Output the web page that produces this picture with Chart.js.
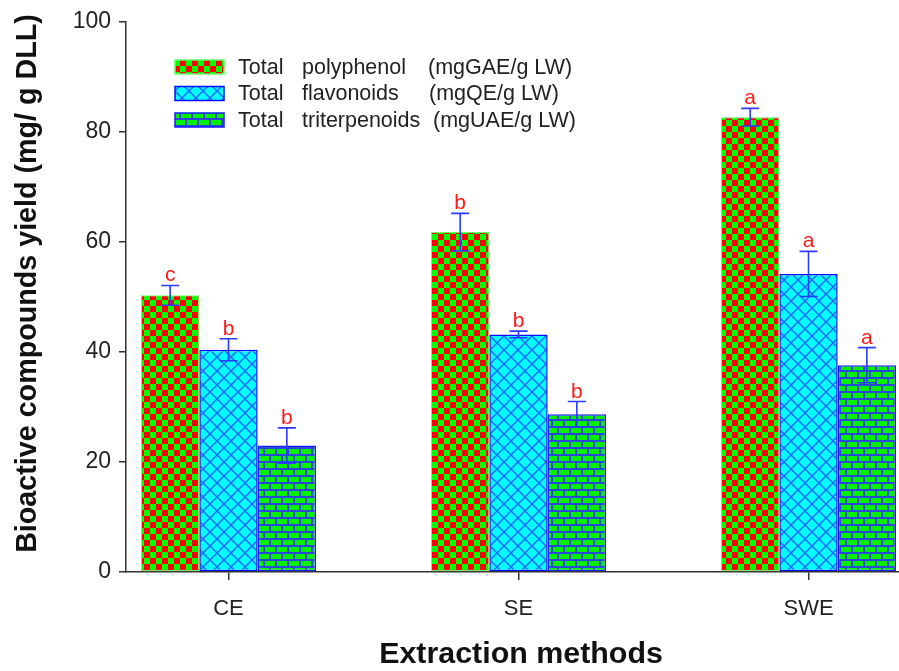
<!DOCTYPE html>
<html><head><meta charset="utf-8">
<script src="https://cdn.jsdelivr.net/npm/chart.js@4"></script>
<style>html,body{margin:0;padding:0;background:#fff;overflow:hidden}#wrap{position:relative;width:899px;height:671px}</style>
</head><body><div id="wrap"><canvas id="c" width="899" height="671"></canvas></div>
<script>
// ---- data ----
const categories = ['CE', 'SE', 'SWE'];
const polyphenol = [50.3, 61.8, 82.7];
const polyphenolErr = [1.8, 3.4, 1.6];
const polyphenolLetters = ['c', 'b', 'a'];
const flavonoids = [40.4, 43.2, 54.2];
const flavonoidsErr = [2.0, 0.6, 4.1];
const flavonoidsLetters = ['b', 'b', 'a'];
const triterpenoids = [23.0, 28.7, 37.6];
const triterpenoidsErr = [3.2, 2.3, 3.2];
const triterpenoidsLetters = ['b', 'b', 'a'];
const yTicks = [0, 20, 40, 60, 80, 100];
const legendParts = [
  ['Total', 'polyphenol', '(mgGAE/g LW)'],
  ['Total', 'flavonoids', '(mgQE/g LW)'],
  ['Total', 'triterpenoids', '(mgUAE/g LW)']
];
const yTitle = 'Bioactive compounds yield (mg/ g DLL)';
const xTitle = 'Extraction methods';

// ---- patterns ----
function makePattern(w, h, draw) {
  const c = document.createElement('canvas');
  c.width = w; c.height = h;
  const g = c.getContext('2d');
  draw(g, w, h);
  return document.getElementById('c').getContext('2d').createPattern(c, 'repeat');
}
const checker = makePattern(12, 12, (g) => {
  g.fillStyle = '#00ff00'; g.fillRect(0, 0, 12, 12);
  g.fillStyle = '#ff0000'; g.fillRect(0, 0, 6, 6); g.fillRect(6, 6, 6, 6);
});
const hatch = makePattern(14, 14, (g, w, h) => {
  g.fillStyle = '#00ffff'; g.fillRect(0, 0, w, h);
  g.strokeStyle = '#2266ff'; g.lineWidth = 1.5;
  for (const o of [-w, 0, w]) {
    g.beginPath(); g.moveTo(o, 0); g.lineTo(o + w, h); g.stroke();
    g.beginPath(); g.moveTo(o + w, 0); g.lineTo(o, h); g.stroke();
  }
});
const brick = makePattern(12, 14, (g) => {
  g.fillStyle = '#2a48d8'; g.fillRect(0, 0, 12, 14);
  g.fillStyle = '#00f000';
  g.fillRect(1, 1, 10, 5);
  g.fillRect(7, 8, 10, 5); g.fillRect(-5, 8, 10, 5);
});

const series = [
  { label: legendParts[0].join(' '), values: polyphenol, err: polyphenolErr, letters: polyphenolLetters, bg: checker, border: '#66ff66', bw: 1 },
  { label: legendParts[1].join(' '), values: flavonoids, err: flavonoidsErr, letters: flavonoidsLetters, bg: hatch, border: '#0a0aff', bw: 1.5 },
  { label: legendParts[2].join(' '), values: triterpenoids, err: triterpenoidsErr, letters: triterpenoidsLetters, bg: brick, border: '#1a1aff', bw: 1.5 }
];

const FONT = '"Liberation Sans", Arial, Helvetica, sans-serif';

const errorBars = {
  id: 'errorBars',
  afterDatasetsDraw(chart) {
    const ctx = chart.ctx, ys = chart.scales.y;
    series.forEach((s, d) => {
      const meta = chart.getDatasetMeta(d);
      meta.data.forEach((bar, i) => {
        const x = bar.x;
        const yt = ys.getPixelForValue(s.values[i] + s.err[i]);
        const yb = ys.getPixelForValue(s.values[i] - s.err[i]);
        ctx.save();
        ctx.strokeStyle = '#2a3aff'; ctx.lineWidth = 1.6;
        ctx.beginPath();
        ctx.moveTo(x, yt); ctx.lineTo(x, yb);
        ctx.moveTo(x - 9, yt); ctx.lineTo(x + 9, yt);
        ctx.moveTo(x - 9, yb); ctx.lineTo(x + 9, yb);
        ctx.stroke();
        ctx.fillStyle = '#ff1a1a';
        ctx.font = '21px ' + FONT;
        ctx.textAlign = 'center'; ctx.textBaseline = 'alphabetic';
        ctx.fillText(s.letters[i], x, yt - 4);
        ctx.restore();
      });
    });
  }
};

const customLegendAndTitles = {
  id: 'customLegendAndTitles',
  afterDraw(chart) {
    const ctx = chart.ctx;
    const xs = [[238, 302, 428], [238, 302, 429], [238, 302, 433]];
    series.forEach((s, r) => {
      const yc = 67 + r * 26.5;
      ctx.save();
      ctx.fillStyle = s.bg;
      ctx.fillRect(175, yc - 7, 49, 14);
      ctx.strokeStyle = s.border; ctx.lineWidth = 1.5;
      ctx.strokeRect(175, yc - 7, 49, 14);
      ctx.fillStyle = '#222';
      ctx.font = '21.5px ' + FONT;
      ctx.textBaseline = 'middle'; ctx.textAlign = 'left';
      legendParts[r].forEach((t, k) => ctx.fillText(t, xs[r][k], yc + 1));
      ctx.restore();
    });
    // axis titles
    ctx.save();
    ctx.fillStyle = '#111';
    ctx.font = 'bold 28.7px ' + FONT;
    ctx.textAlign = 'center'; ctx.textBaseline = 'middle';
    ctx.translate(28, 283.5);
    ctx.rotate(-Math.PI / 2);
    ctx.fillText(yTitle, 0, 0);
    ctx.restore();
    ctx.save();
    ctx.fillStyle = '#111';
    ctx.font = 'bold 30.4px ' + FONT;
    ctx.textAlign = 'center'; ctx.textBaseline = 'middle';
    ctx.fillText(xTitle, 521, 655);
    ctx.restore();
  }
};

new Chart(document.getElementById('c'), {
  type: 'bar',
  data: {
    datasets: series.map(s => ({
      label: s.label,
      data: s.values.map((v, i) => ({ x: i, y: v })),
      backgroundColor: s.bg,
      borderColor: s.border,
      borderWidth: s.bw,
      borderSkipped: false,
      categoryPercentage: 0.6034,
      barPercentage: 1.0
    }))
  },
  options: {
    responsive: false,
    animation: false,
    devicePixelRatio: 1,
    layout: { padding: { top: 22, right: 0, left: 0, bottom: 0 } },
    plugins: { legend: { display: false }, tooltip: { enabled: false } },
    scales: {
      x: {
        type: 'linear',
        min: -0.3534, max: 2.312,
        offset: false,
        afterBuildTicks: (sc) => { sc.ticks = categories.map((c, i) => ({ value: i })); },
        afterFit: (sc) => { sc.height = 99; },
        ticks: {
          autoSkip: false, maxRotation: 0,
          callback: (v) => categories[v],
          font: { size: 22, family: FONT }, color: '#222', padding: 16
        },
        grid: { display: true, offset: false, drawOnChartArea: false, drawTicks: true, tickLength: 8, color: '#333', lineWidth: 1.5 },
        border: { display: true, color: '#333', width: 1.5 },
        title: { display: false }
      },
      y: {
        min: 0, max: 100,
        afterBuildTicks: (sc) => { sc.ticks = yTicks.map(v => ({ value: v })); },
        afterFit: (sc) => { sc.width = 126; },
        ticks: { font: { size: 23, family: FONT }, color: '#222', padding: 8 },
        grid: { display: true, drawOnChartArea: false, drawTicks: true, tickLength: 7, color: '#333', lineWidth: 1.5 },
        border: { display: true, color: '#333', width: 1.5 },
        title: { display: false }
      }
    }
  },
  plugins: [errorBars, customLegendAndTitles]
});
</script></body></html>
